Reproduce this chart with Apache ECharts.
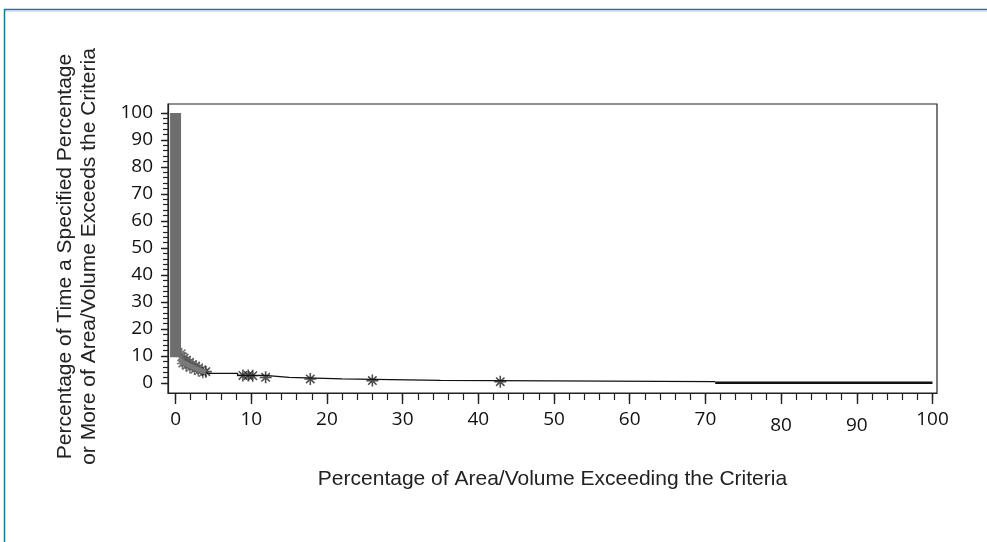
<!DOCTYPE html>
<html>
<head>
<meta charset="utf-8">
<script src="https://cdn.jsdelivr.net/npm/echarts@6/dist/echarts.min.js"></script>
<style>
  html, body { margin: 0; padding: 0; background: #fff; }
  #chart { width: 987px; height: 542px; }
</style>
</head>
<body>
<div id="chart"></div>
<script>
// tick labels
var xMajorTicks = [0, 10, 20, 30, 40, 50, 60, 70, 80, 90, 100]
var yMajorTicks = [0, 10, 20, 30, 40, 50, 60, 70, 80, 90, 100]
var minorTicks = [0, 2, 4, 6, 8, 10, 12, 14, 16, 18, 20, 22, 24, 26, 28, 30, 32, 34, 36, 38, 40, 42, 44, 46, 48, 50,
  52, 54, 56, 58, 60, 62, 64, 66, 68, 70, 72, 74, 76, 78, 80, 82, 84, 86, 88, 90, 92, 94, 96, 98, 100]
// labels that sit a little lower in the original
var loweredLabels = [80, 90]

// dense block of points at 0 % area
var bandX = [0, 0]
var bandY = [9.5, 100]

// gray cluster just right of zero
var grayX = [0.8, 1.2, 1.5, 1.9, 2.3, 2.7, 3.1, 3.5, 0.9, 1.4, 1.9, 2.5, 3.0, 3.6]
var grayY = [11.0, 9.4, 8.6, 7.8, 7.0, 6.4, 5.8, 5.0, 7.2, 6.4, 5.6, 5.0, 4.4, 3.8]
var grayLineX = [0.4, 1.0, 2.0, 3.0, 4.0]
var grayLineY = [9.0, 7.6, 6.2, 5.0, 4.0]

// black asterisks
var starX = [4.0, 8.9, 9.6, 10.2, 11.9, 17.8, 26.0, 42.9]
var starY = [4.2, 2.8, 2.8, 2.7, 2.1, 1.5, 0.9, 0.5]

// step curve (value holds until next x)
var stepX = [4.2, 8.2, 11.8, 15.0, 22.0, 35.0, 71.3]
var stepY = [3.6, 2.8, 2.1, 1.5, 0.95, 0.5, 0.5]

// last flat segment
var tailX = [71.3, 100]
var tailY = [0.1, 0.1]

function pairs (xs, ys) {
  var out = []
  for (var i = 0; i < xs.length; i++) {
    out.push([xs[i], ys[i]])
  }
  return out
}

var asterisk = 'path://M5,0L5,10M0,5L10,5M1.5,1.5L8.5,8.5M1.5,8.5L8.5,1.5'
var labelFont = '"Open Sans", sans-serif'
var nameFont = '"Liberation Sans", Arial, sans-serif'

var myChart = echarts.init(document.getElementById('chart'), null, { renderer: 'canvas' })

var option = {
  backgroundColor: '#fff',
  animation: false,
  graphic: [
    { type: 'line', shape: { x1: 4, y1: 9.5, x2: 987, y2: 9.5 }, style: { stroke: '#1f7593', lineWidth: 1.5 } },
    { type: 'line', shape: { x1: 5, y1: 11, x2: 987, y2: 11 }, style: { stroke: '#a9d6e2', lineWidth: 1 } },
    { type: 'line', shape: { x1: 4.5, y1: 9, x2: 4.5, y2: 542 }, style: { stroke: '#1f7593', lineWidth: 1.5 } }
  ],
  grid: {
    left: 168,
    right: 50,
    top: 104,
    bottom: 149,
    show: true,
    borderColor: '#222',
    borderWidth: 1.2,
    backgroundColor: 'transparent'
  },
  xAxis: [
    {
      type: 'value',
      min: -1,
      max: 100.6,
      position: 'bottom',
      name: 'Percentage of Area/Volume Exceeding the Criteria',
      nameLocation: 'middle',
      nameGap: 76,
      nameTextStyle: { fontFamily: nameFont, fontSize: 21, color: '#222' },
      axisLine: { show: true, onZero: false, lineStyle: { color: '#222', width: 1.2 } },
      axisTick: { show: true, inside: false, length: 11, customValues: xMajorTicks, lineStyle: { color: '#222', width: 1.4 } },
      axisLabel: {
        show: true,
        customValues: xMajorTicks,
        margin: 17,
        fontFamily: labelFont,
        fontSize: 19,
        color: '#111',
        formatter: function (v) {
          return loweredLabels.indexOf(v) >= 0 ? '{low|' + v + '}' : String(v)
        },
        rich: {
          low: { fontFamily: labelFont, fontSize: 19, color: '#111', padding: [6, 0, 0, 0] }
        }
      },
      splitLine: { show: false }
    },
    {
      type: 'value',
      min: -1,
      max: 100.6,
      position: 'bottom',
      axisLine: { show: false, onZero: false },
      axisTick: { show: true, inside: false, length: 7, customValues: minorTicks, lineStyle: { color: '#222', width: 1.2 } },
      axisLabel: { show: false },
      splitLine: { show: false }
    }
  ],
  yAxis: [
    {
      type: 'value',
      min: -3.7,
      max: 103.3,
      position: 'left',
      name: 'Percentage of Time a Specified Percentage\nor More of Area/Volume Exceeds the Criteria',
      nameLocation: 'middle',
      nameGap: 67,
      nameTextStyle: { fontFamily: nameFont, fontSize: 21, color: '#222', lineHeight: 24, padding: [0, 16, 0, 0] },
      axisLine: { show: true, onZero: false, lineStyle: { color: '#222', width: 1.2 } },
      axisTick: { show: true, inside: false, length: 7, customValues: yMajorTicks, lineStyle: { color: '#222', width: 1.4 } },
      axisLabel: { show: true, customValues: yMajorTicks, margin: 15, fontFamily: labelFont, fontSize: 19, color: '#111' },
      splitLine: { show: false }
    },
    {
      type: 'value',
      min: -3.7,
      max: 103.3,
      position: 'left',
      axisLine: { show: false, onZero: false },
      axisTick: { show: true, inside: false, length: 5, customValues: minorTicks, lineStyle: { color: '#222', width: 1.2 } },
      axisLabel: { show: false },
      splitLine: { show: false }
    }
  ],
  series: [
    {
      name: 'band',
      type: 'line',
      data: pairs(bandX, bandY),
      showSymbol: false,
      lineStyle: { color: '#6e6e6e', width: 11, cap: 'butt' }
    },
    {
      name: 'grayLine',
      type: 'line',
      data: pairs(grayLineX, grayLineY),
      showSymbol: false,
      lineStyle: { color: '#7a7a7a', width: 5 }
    },
    {
      name: 'grayStars',
      type: 'scatter',
      data: pairs(grayX, grayY),
      symbol: asterisk,
      symbolSize: 11,
      itemStyle: { color: 'transparent', borderColor: '#555', borderWidth: 1.6 }
    },
    {
      name: 'step',
      type: 'line',
      step: 'end',
      data: pairs(stepX, stepY),
      showSymbol: false,
      lineStyle: { color: '#111', width: 1.3 }
    },
    {
      name: 'tail',
      type: 'line',
      data: pairs(tailX, tailY),
      showSymbol: false,
      lineStyle: { color: '#111', width: 2.6 }
    },
    {
      name: 'stars',
      type: 'scatter',
      data: pairs(starX, starY),
      symbol: asterisk,
      symbolSize: 12,
      itemStyle: { color: 'transparent', borderColor: '#222', borderWidth: 1.6 }
    }
  ]
}

myChart.setOption(option)
</script>
</body>
</html>
